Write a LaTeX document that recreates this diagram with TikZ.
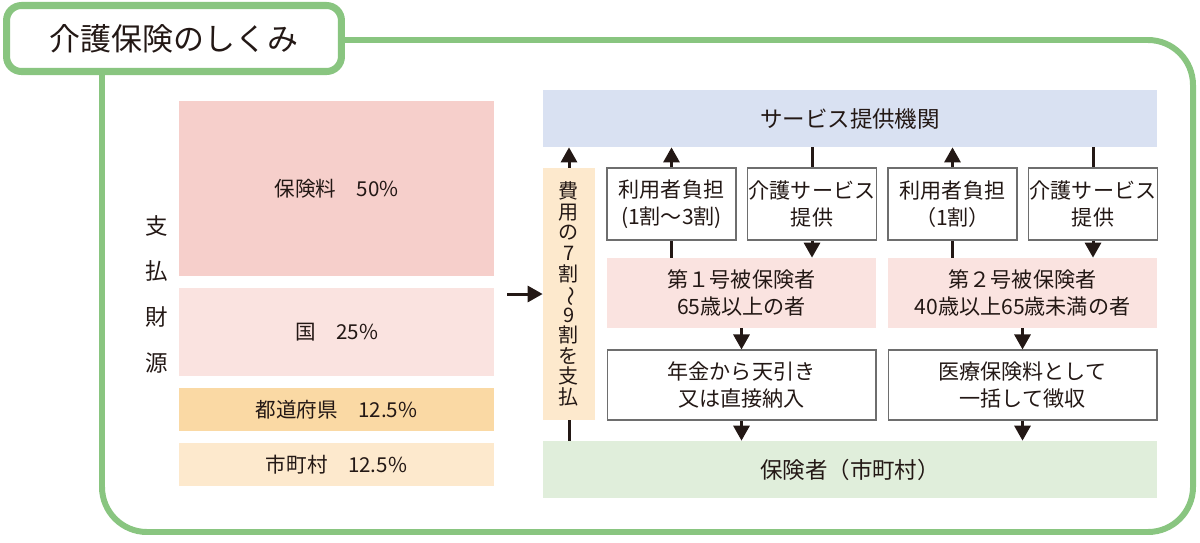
\documentclass[tikz,border=0pt]{standalone}
\usepackage{fontspec}
\setmainfont{Noto Sans CJK JP}
\usepackage{tikz}
\usetikzlibrary{arrows.meta,positioning}
\usepackage{xcolor}
\definecolor{ink}{RGB}{35,24,21}
\definecolor{leaf}{RGB}{137,197,128}
\definecolor{rose}{RGB}{246,207,203}
\definecolor{blush}{RGB}{250,227,224}
\definecolor{apricot}{RGB}{250,217,164}
\definecolor{cream}{RGB}{253,233,205}
\definecolor{sky}{RGB}{217,225,242}
\definecolor{mint}{RGB}{224,238,219}
\definecolor{rim}{RGB}{110,110,110}
\begin{document}
\begin{tikzpicture}[x=0.02cm, y=-0.02cm,
  every node/.style={text=ink, inner sep=0pt},
  fund/.style={minimum width=6.3cm, font=\fontsize{11.7}{14}\selectfont},
  band/.style={minimum width=12.28cm, minimum height=1.14cm,
    font=\fontsize{12.8}{15}\selectfont},
  cell/.style={draw=rim, line width=0.6pt, fill=white, minimum width=2.58cm,
    minimum height=1.44cm, align=center, font=\fontsize{12}{15.4}\selectfont},
  wide/.style={minimum width=5.38cm, minimum height=1.4cm, align=center,
    font=\fontsize{12}{15.4}\selectfont},
  flow/.style={draw=ink, line width=1.7pt},
  flowto/.style={flow, -{Triangle[length=3mm,width=3.2mm]}}]
\useasboundingbox (0,0) rectangle (1200,542);
\draw[leaf, line width=3.4pt, rounded corners=0.9cm] (102,60) |- (1193,532) |- (330,40);
\node[draw=leaf, line width=4pt, fill=white, rounded corners=0.3cm, minimum width=6.7cm,
  minimum height=1.32cm, font=\fontsize{17.6}{20}\selectfont] (title) at (174,38.5) {介護保険のしくみ};
\node[align=center, font=\fontsize{12.8}{26}\selectfont] (src-lbl) at (157,294) {支\\払\\財\\源};
\node[fund, fill=rose, minimum height=3.5cm] (prem) at (336.5,188.5) {保険料　50\%};
\node[fund, fill=blush, minimum height=1.76cm] (kuni) at (336.5,332) {国　25\%};
\node[fund, fill=apricot, minimum height=0.86cm] (pref) at (336.5,409.5) {都道府県　12.5\%};
\node[fund, fill=cream, minimum height=0.86cm] (muni) at (336.5,464.5) {市町村　12.5\%};
\node[fill=cream, minimum width=1.04cm, minimum height=5.04cm, align=center,
  font=\fontsize{11.4}{11.7}\selectfont] (pay) at (569,294)
  {費\\用\\の\\7\\割\\\rotatebox[origin=c]{-90}{～}\\9\\割\\を\\支\\払};
\node[band, fill=sky] (svc) at (850,118.5) {サービス提供機関};
\node[band, fill=mint] (ins) at (850,469.5) {保険者（市町村）};
\node[cell] (u1) at (671.5,204) {利用者負担\\(1割～3割)};
\node[cell] (s1) at (812,204) {介護サービス\\提供};
\node[cell] (u2) at (952.5,204) {利用者負担\\（1割）};
\node[cell] (s2) at (1093,204) {介護サービス\\提供};
\node[wide, fill=blush] (h1) at (741.5,293) {第１号被保険者\\65歳以上の者};
\node[wide, fill=blush] (h2) at (1022.5,293) {第２号被保険者\\40歳以上65歳未満の者};
\node[cell, wide] (c1) at (741.5,385) {年金から天引き\\又は直接納入};
\node[cell, wide] (c2) at (1022.5,385) {医療保険料として\\一括して徴収};
\coordinate (src) at (507,294);
\draw[flowto] (src) -- (pay.west);
\draw[flowto] (pay.north) -- (pay.north |- svc.south);
\draw[flow] (pay.south) -- (pay.south |- ins.north);
\draw[flowto] (u1.north) -- (u1.north |- svc.south);
\draw[flow] (h1.north -| u1.south) -- (u1.south);
\draw[flow] (svc.south -| s1.north) -- (s1.north);
\draw[flowto] (s1.south) -- (s1.south |- h1.north);
\draw[flowto] (u2.north) -- (u2.north |- svc.south);
\draw[flow] (h2.north -| u2.south) -- (u2.south);
\draw[flow] (svc.south -| s2.north) -- (s2.north);
\draw[flowto] (s2.south) -- (s2.south |- h2.north);
\draw[flowto] (h1.south) -- (c1.north);
\draw[flowto] (c1.south) -- (c1.south |- ins.north);
\draw[flowto] (h2.south) -- (c2.north);
\draw[flowto] (c2.south) -- (c2.south |- ins.north);
\end{tikzpicture}
\end{document}
